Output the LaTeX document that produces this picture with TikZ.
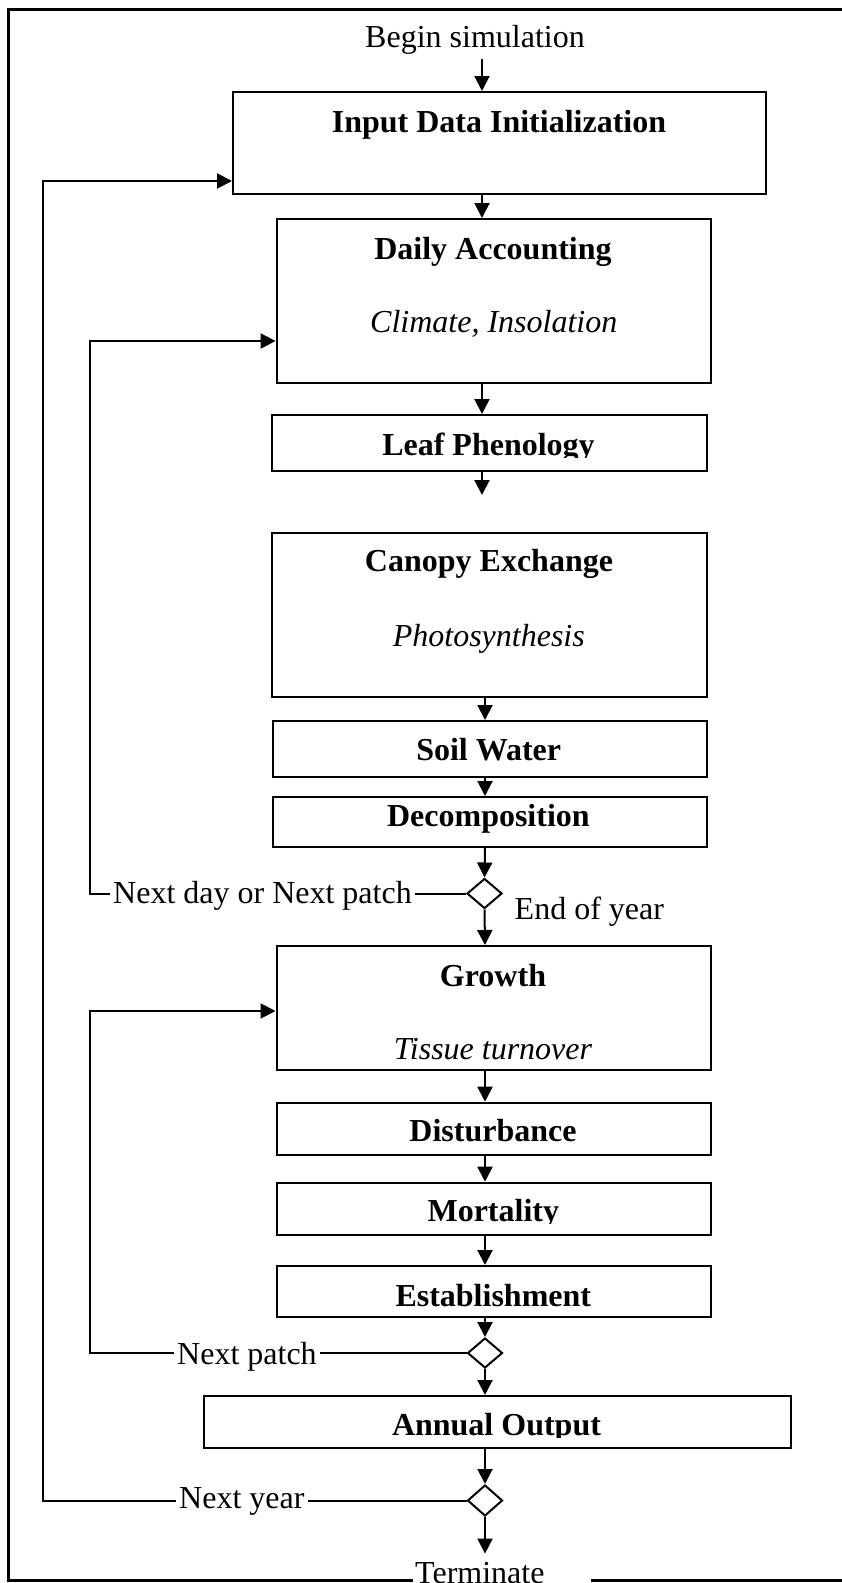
\documentclass[tikz,border=0pt]{standalone}
\usepackage{fontspec}
\setmainfont{Liberation Serif}
\usetikzlibrary{arrows.meta,shapes.geometric}
\begin{document}
\begin{tikzpicture}[x=1pt,y=-1pt,
  txt/.style={font=\fontsize{32pt}{38pt}\selectfont, inner sep=0pt},
  ttl/.style={txt, font=\fontsize{32pt}{38pt}\selectfont\bfseries, anchor=base},
  sub/.style={txt, font=\fontsize{32pt}{38pt}\selectfont\itshape, anchor=base},
  lbl/.style={txt, anchor=base west, inner xsep=3pt},
  box/.style={draw, line width=2pt, inner sep=0pt, anchor=north west},
  dia/.style={draw, diamond, line width=2pt, inner sep=0pt, minimum width=35pt, minimum height=30pt},
  arr/.style={line width=2pt, -{Triangle[width=15pt,length=15pt]}},
  ln/.style={line width=2pt},
  outerframe/.style={line width=3pt}
]
\clip (0,0) rectangle (842,1583);
\draw[outerframe] (8.5,9) rectangle (870,1580.5);

% columns for connectors
\coordinate (colA) at (482,0);
\coordinate (colB) at (485,0);
\coordinate (lA) at (89.5,0);
\coordinate (lC) at (43,0);

\node[txt, anchor=base] (begin) at (475,47) {Begin simulation};

\node[box, minimum width=533pt, minimum height=102pt] (inp) at (232,91) {};
\node[ttl] (inpT) at (499,132) {Input Data Initialization};

\node[box, minimum width=434.2pt, minimum height=163.6pt] (daily) at (275.6,218) {};
\node[ttl] (dailyT) at (493,259) {Daily Accounting};
\node[sub] (dailyS) at (493.8,332) {Climate, Insolation};

\node[box, minimum width=435pt, minimum height=56pt] (leaf) at (271,414) {};
\begin{scope}
\clip (271,414) rectangle (706,457.5);
\node[ttl] (leafT) at (488.5,455) {Leaf Phenology};
\end{scope}

\node[box, minimum width=435pt, minimum height=164pt] (canopy) at (271,531.7) {};
\node[ttl] (canopyT) at (489,571.7) {Canopy Exchange};
\node[sub] (canopyS) at (488.8,646) {Photosynthesis};

\node[box, minimum width=434.3pt, minimum height=55.7pt] (soil) at (271.7,720) {};
\node[ttl] (soilT) at (488.7,760.7) {Soil Water};

\node[box, minimum width=434.3pt, minimum height=49.7pt] (decomp) at (271.7,796) {};
\node[ttl] (decompT) at (488.4,826) {Decomposition};

\node[dia] (d1) at (484.5,893.5) {};
\node[lbl] (nd) at (110,903.5) {Next day or Next patch};
\node[txt, anchor=base west] (eoy) at (514.5,919.5) {End of year};

\node[box, minimum width=434.5pt, minimum height=124pt] (growth) at (275.5,945) {};
\node[ttl] (growthT) at (493,986) {Growth};
\node[sub] (growthS) at (493,1059) {Tissue turnover};

\node[box, minimum width=434.5pt, minimum height=52pt] (dist) at (275.5,1101.7) {};
\node[ttl] (distT) at (493,1141.7) {Disturbance};

\node[box, minimum width=434.5pt, minimum height=52.3pt] (mort) at (275.5,1181.7) {};
\begin{scope}
\clip (275.5,1181.7) rectangle (710,1223.5);
\node[ttl] (mortT) at (493.3,1221.7) {Mortality};
\end{scope}

\node[box, minimum width=434.5pt, minimum height=50.7pt] (estab) at (275.5,1265) {};
\node[ttl] (estabT) at (493.3,1306) {Establishment};

\node[dia] (d2) at (485,1353) {};
\node[lbl] (np) at (174,1364.5) {Next patch};

\node[box, minimum width=587pt, minimum height=51.7pt] (annual) at (202.5,1395) {};
\begin{scope}
\clip (202.5,1395) rectangle (789.5,1437);
\node[ttl] (annualT) at (496.5,1435.7) {Annual Output};
\end{scope}

\node[dia, minimum height=31pt] (d3) at (485,1500.5) {};
\node[lbl] (ny) at (176,1508) {Next year};

\fill[white] (413,1556) rectangle (591,1590);
\node[txt, anchor=base west] (term) at (415,1583) {Terminate};

% main flow
\draw[arr, shorten <=5pt] (begin.south -| colA) -- (inp.north -| colA);
\draw[arr] (inp.south -| colA) -- (daily.north -| colA);
\draw[arr] (daily.south -| colA) -- (leaf.north -| colA);
\coordinate (leafEnd) at (482,495);
\draw[arr] (leaf.south -| colA) -- (leafEnd);
\draw[arr] (canopy.south -| colB) -- (soil.north -| colB);
\draw[arr] (soil.south -| colB) -- (decomp.north -| colB);
\draw[arr] (decomp.south -| colB) -- (d1.north);
\draw[arr] (d1.south) -- (growth.north -| colB);
\draw[arr] (growth.south -| colB) -- (dist.north -| colB);
\draw[arr] (dist.south -| colB) -- (mort.north -| colB);
\draw[arr] (mort.south -| colB) -- (estab.north -| colB);
\draw[arr] (estab.south -| colB) -- (d2.north);
\draw[arr] (d2.south) -- (annual.north -| colB);
\draw[arr] (annual.south -| colB) -- (d3.north);
\draw[arr, shorten >=8pt] (d3.south) -- (d3.south |- term.north);

% loops
\draw[ln] (d1.west) -- (d1.west -| nd.east);
\draw[arr] (d1.west -| nd.west) -- (d1.west -| lA) |- ([yshift=-40.2pt]daily.west);
\draw[ln] (d2.west) -- (d2.west -| np.east);
\draw[arr] (d2.west -| np.west) -- (d2.west -| lA) |- ([yshift=-3pt]growth.west);
\draw[ln] (d3.west) -- (d3.west -| ny.east);
\draw[arr] (d3.west -| ny.west) -- (d3.west -| lC) |- ([yshift=-38pt]inp.west);
\end{tikzpicture}
\end{document}
